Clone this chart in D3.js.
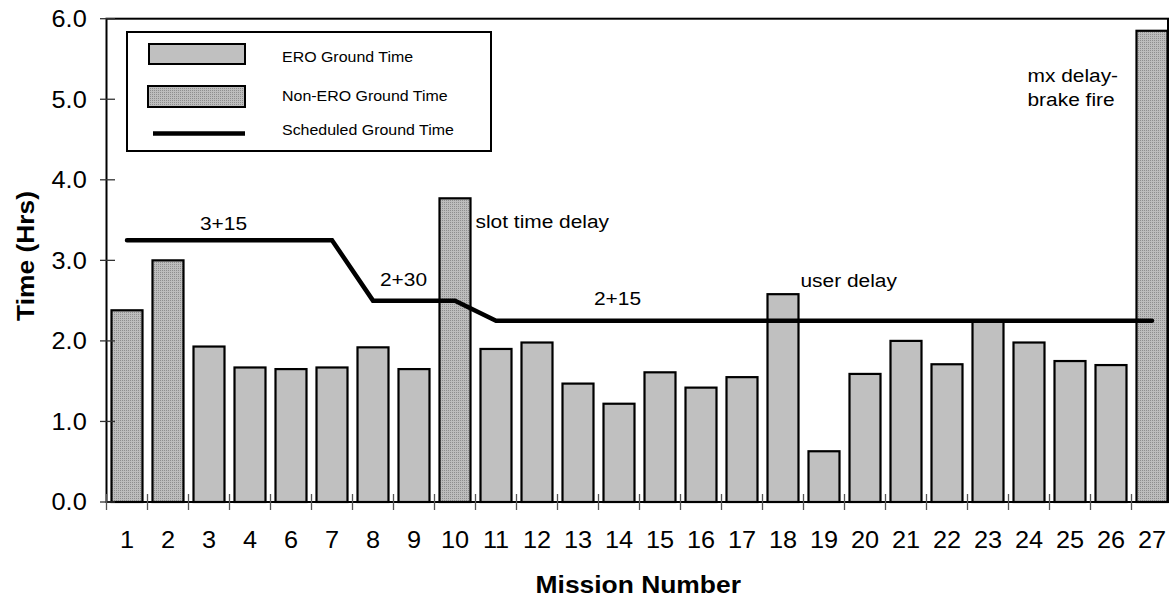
<!DOCTYPE html>
<html><head><meta charset="utf-8">
<script src="https://cdn.jsdelivr.net/npm/d3@7"></script>
<style>
body{margin:0;background:#fff}
svg{display:block}
text{font-family:"Liberation Sans",Arial,Helvetica,sans-serif;fill:#000}
</style>
</head><body>
<svg id="chart" width="1171" height="599"></svg>
<script>
// ---- data ----
const missions = ["1","2","3","4","6","7","8","9","10","11","12","13","14","15","16","17","18","19","20","21","22","23","24","25","26","27"];
const groundTime = [2.38,3.00,1.93,1.67,1.65,1.67,1.92,1.65,3.77,1.90,1.98,1.47,1.22,1.61,1.42,1.55,2.58,0.63,1.59,2.00,1.71,2.25,1.98,1.75,1.70,5.85];
const groundType = ["Non-ERO","Non-ERO","ERO","ERO","ERO","ERO","ERO","ERO","Non-ERO","ERO","ERO","ERO","ERO","ERO","ERO","ERO","ERO","ERO","ERO","ERO","ERO","ERO","ERO","ERO","ERO","Non-ERO"];
const scheduled = [3.25,3.25,3.25,3.25,3.25,3.25,2.5,2.5,2.5,2.25,2.25,2.25,2.25,2.25,2.25,2.25,2.25,2.25,2.25,2.25,2.25,2.25,2.25,2.25,2.25,2.25];
const yTicks = [0,1,2,3,4,5,6];
const legendLabels = ["ERO Ground Time","Non-ERO Ground Time","Scheduled Ground Time"];
const notes = [
  {lines:["3+15"], mission:"3", value:3.25},
  {lines:["2+30"], mission:"9", value:2.5},
  {lines:["2+15"], mission:"14", value:2.25},
  {lines:["slot time delay"], mission:"10", value:3.77},
  {lines:["user delay"], mission:"18", value:2.58},
  {lines:["mx delay-","brake fire"], mission:"27", value:5.85}
];
const xTitle = "Mission Number";
const yTitle = "Time (Hrs)";

// ---- layout ----
const SX = 1.1; // horizontal glyph stretch of the original rendering
const svg = d3.select("#chart");
const plot = {left:106.5, right:1168, top:18.7, bottom:502};

const x = d3.scaleBand().domain(missions)
  .range([plot.left, plot.left + 26*41])
  .paddingInner(0.244).paddingOuter(0.122);
const y = d3.scaleLinear().domain([0,6]).range([plot.bottom, plot.top]);
const cx = m => x(m) + x.bandwidth()/2;

function stext(g, str, px, py, size, anchor, weight, rot){
  return g.append("text")
    .attr("transform", `translate(${px},${py})` + (rot ? ` rotate(${rot})` : "") + ` scale(${SX},1)`)
    .attr("text-anchor", anchor || "start")
    .attr("font-size", size)
    .attr("font-weight", weight || "normal")
    .text(str);
}

// pattern for non-ERO
const defs = svg.append("defs");
const pat = defs.append("pattern").attr("id","stip").attr("patternUnits","userSpaceOnUse")
  .attr("width",2).attr("height",2);
pat.append("rect").attr("width",2).attr("height",2).attr("fill","#bdbdbd");
pat.append("rect").attr("width",1).attr("height",1).attr("fill","#8e8e8e");
const fillFor = t => t === "ERO" ? "#c0c0c0" : "url(#stip)";

// bars
svg.append("g").selectAll("rect").data(missions).join("rect")
  .attr("x", d => x(d))
  .attr("y", (d,i) => y(groundTime[i]))
  .attr("width", x.bandwidth())
  .attr("height", (d,i) => y(0) - y(groundTime[i]))
  .attr("fill", (d,i) => fillFor(groundType[i]))
  .attr("stroke","#000").attr("stroke-width",2.2);

// frame
svg.append("rect").attr("x",plot.left).attr("y",plot.top)
  .attr("width",plot.right-plot.left).attr("height",plot.bottom-plot.top)
  .attr("fill","none").attr("stroke","#000").attr("stroke-width",2);

// y axis ticks + labels
const yAxis = svg.append("g");
yAxis.selectAll("line").data(yTicks).join("line")
  .attr("x1", plot.left-6.5).attr("x2", plot.left+8.5)
  .attr("y1", d => y(d)).attr("y2", d => y(d))
  .attr("stroke","#333").attr("stroke-width",1.3);
yTicks.forEach(t => stext(yAxis, d3.format(".1f")(t), 86.7, y(t)+8.3, 23, "end"));

// x axis boundary ticks + labels
const half = (x.step() - x.bandwidth())/2;
const bounds = missions.map(m => x(m) - half);
const xAxis = svg.append("g");
xAxis.selectAll("line").data(bounds).join("line")
  .attr("x1", d => d).attr("x2", d => d)
  .attr("y1", plot.bottom-8).attr("y2", plot.bottom+8)
  .attr("stroke","#555").attr("stroke-width",1.3);
missions.forEach(m => stext(xAxis, m, cx(m), 548.3, 23, "middle"));

// axis titles
stext(svg, xTitle, (plot.left+plot.right)/2+1, 593.3, 24, "middle", "bold");
stext(svg, yTitle, 34, 256, 24, "middle", "bold", -90);

// scheduled line
svg.append("path")
  .attr("d", d3.line().x((d,i) => cx(missions[i])).y(d => y(d))(scheduled))
  .attr("fill","none").attr("stroke","#000").attr("stroke-width",4.5)
  .attr("stroke-linecap","round").attr("stroke-linejoin","miter");

// legend
const lg = svg.append("g");
lg.append("rect").attr("x",127).attr("y",32).attr("width",364).attr("height",119)
  .attr("fill","#fff").attr("stroke","#000").attr("stroke-width",2);
lg.append("rect").attr("x",149).attr("y",44).attr("width",96).attr("height",20)
  .attr("fill",fillFor("ERO")).attr("stroke","#000").attr("stroke-width",2);
lg.append("rect").attr("x",148).attr("y",86).attr("width",97).attr("height",21)
  .attr("fill",fillFor("Non-ERO")).attr("stroke","#000").attr("stroke-width",2);
lg.append("line").attr("x1",153).attr("x2",245).attr("y1",133.5).attr("y2",133.5)
  .attr("stroke","#000").attr("stroke-width",4.5);
[62.3,100.7,135].forEach((by,i) => stext(lg, legendLabels[i], 282, by, 14.5, "start"));

// annotations
const ann = svg.append("g");
const place = {
  "3+15": n => [cx(n.mission)-9, y(n.value)-10],
  "2+30": n => [cx(n.mission)-34, y(n.value)-15],
  "2+15": n => [cx(n.mission)-25, y(n.value)-16],
  "slot time delay": n => [x(n.mission)+x.bandwidth()+5, y(n.value)+30],
  "user delay": n => [x(n.mission)+x.bandwidth()+2, y(n.value)-7],
  "mx delay-": n => [x(n.mission)-109, y(n.value)+51]
};
notes.forEach(n => {
  const [px,py] = place[n.lines[0]](n);
  n.lines.forEach((ln,k) => stext(ann, ln, px, py + k*24.5, 19, "start"));
});
</script>
</body></html>
